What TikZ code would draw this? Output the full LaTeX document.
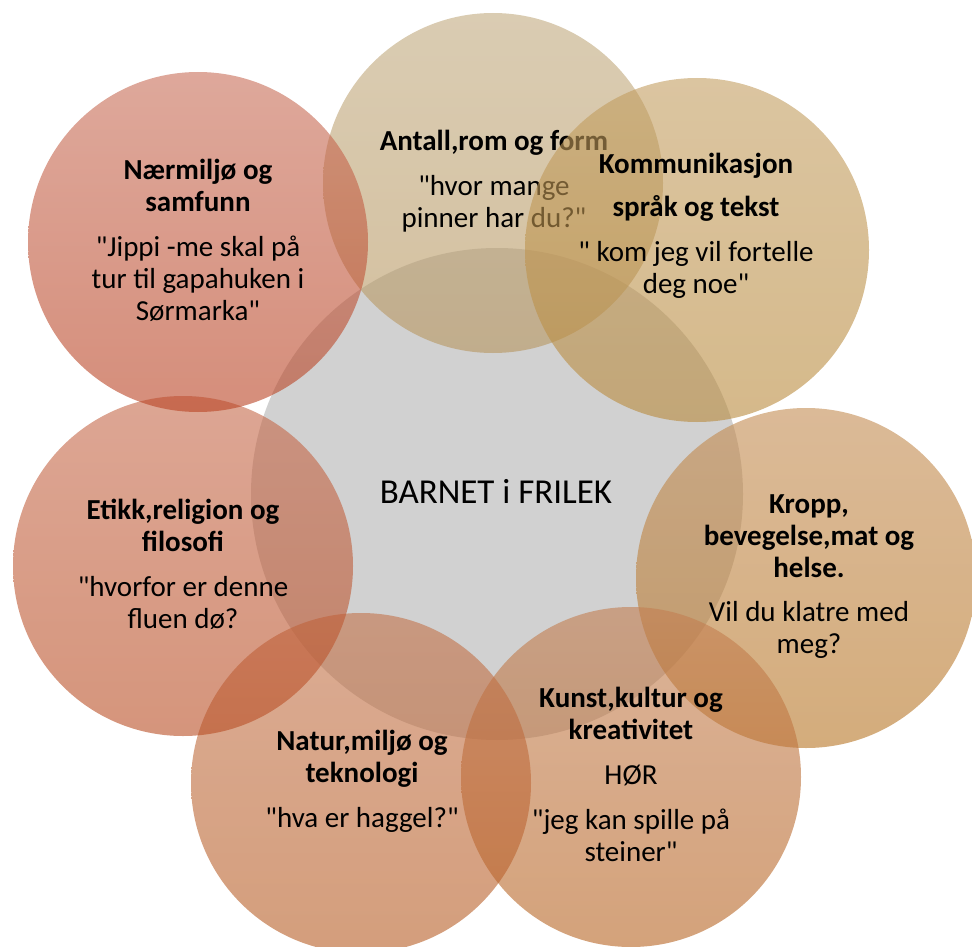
\documentclass[tikz,border=0pt]{standalone}
\usepackage{fontspec}
\setmainfont{Carlito}[Ligatures=TeXOff]
\newcommand\dq{"}
\definecolor{centgray}{RGB}{209,209,209}
\definecolor{naerA}{RGB}{200,110,88}\definecolor{naerB}{RGB}{185,66,34}
\definecolor{antA}{RGB}{193,170,127}\definecolor{antB}{RGB}{183,150,95}
\definecolor{komA}{RGB}{195,158,97}\definecolor{komB}{RGB}{185,138,60}
\definecolor{kroA}{RGB}{195,140,82}\definecolor{kroB}{RGB}{183,117,36}
\definecolor{kunA}{RGB}{195,127,82}\definecolor{kunB}{RGB}{183,100,34}
\definecolor{natA}{RGB}{195,115,75}\definecolor{natB}{RGB}{183,93,36}
\definecolor{etiA}{RGB}{198,106,76}\definecolor{etiB}{RGB}{185,78,36}
\begin{document}
\begin{tikzpicture}[x=1pt,y=-1pt,
  circ/.style={circle, minimum size=340pt, inner sep=0pt, draw=none, fill opacity=0.6},
  lbl/.style={align=center, text=black, inner sep=0pt, font=\fontsize{29}{32}\selectfont}]
\useasboundingbox (0,0) rectangle (972,947);
% centre
\node[circle, minimum size=492pt, inner sep=0pt, draw=none, fill=centgray] (mid) at (497,494) {};
\node[lbl, font=\fontsize{35}{40}\selectfont] (midT) at (496,491) {BARNET i FRILEK};
% Antall
\node[circ, top color=antA, bottom color=antB] (ant) at (493,183) {};
\node[lbl] (antT) at (494,181) {\textbf{Antall,rom og form}\\[13pt]\dq hvor mange\\pinner har du?\dq};
% Kommunikasjon
\node[circ, minimum size=344pt, top color=komA, bottom color=komB] (kom) at (697,250) {};
\node[lbl] (komT) at (696,226) {\textbf{Kommunikasjon}\\[11pt]\textbf{språk og tekst}\\[13pt]\dq{} kom jeg vil fortelle\\deg noe\dq};
% Kropp
\node[circ, top color=kroA, bottom color=kroB] (kro) at (806,578) {};
\node[lbl] (kroT) at (809,577) {\textbf{Kropp,}\\\textbf{bevegelse,mat og}\\\textbf{helse.}\\[12pt]Vil du klatre med\\meg?};
% Kunst
\node[circ, top color=kunA, bottom color=kunB] (kun) at (631,777) {};
\node[lbl] (kunT) at (631,774) {\textbf{Kunst,kultur og}\\\textbf{kreativitet}\\[13pt]HØR\\[13pt]\dq jeg kan spille på\\steiner\dq};
% Natur
\node[circ, top color=natA, bottom color=natB] (nat) at (361,783) {};
\node[lbl] (natT) at (362,781) {\textbf{Natur,miljø og}\\\textbf{teknologi}\\[13pt]\dq hva er haggel?\dq};
% Etikk
\node[circ, top color=etiA, bottom color=etiB] (eti) at (183,566) {};
\node[lbl] (etiT) at (183,564) {\textbf{Etikk,religion og}\\\textbf{filosofi}\\[13pt]\dq hvorfor er denne\\fluen dø?};
% Naermiljo
\node[circ, top color=naerA, bottom color=naerB] (naer) at (198,242) {};
\node[lbl] (naerT) at (198,240) {\textbf{Nærmiljø og}\\\textbf{samfunn}\\[13pt]\dq Jippi -me skal på\\tur til gapahuken i\\Sørmarka\dq};
\end{tikzpicture}
\end{document}
